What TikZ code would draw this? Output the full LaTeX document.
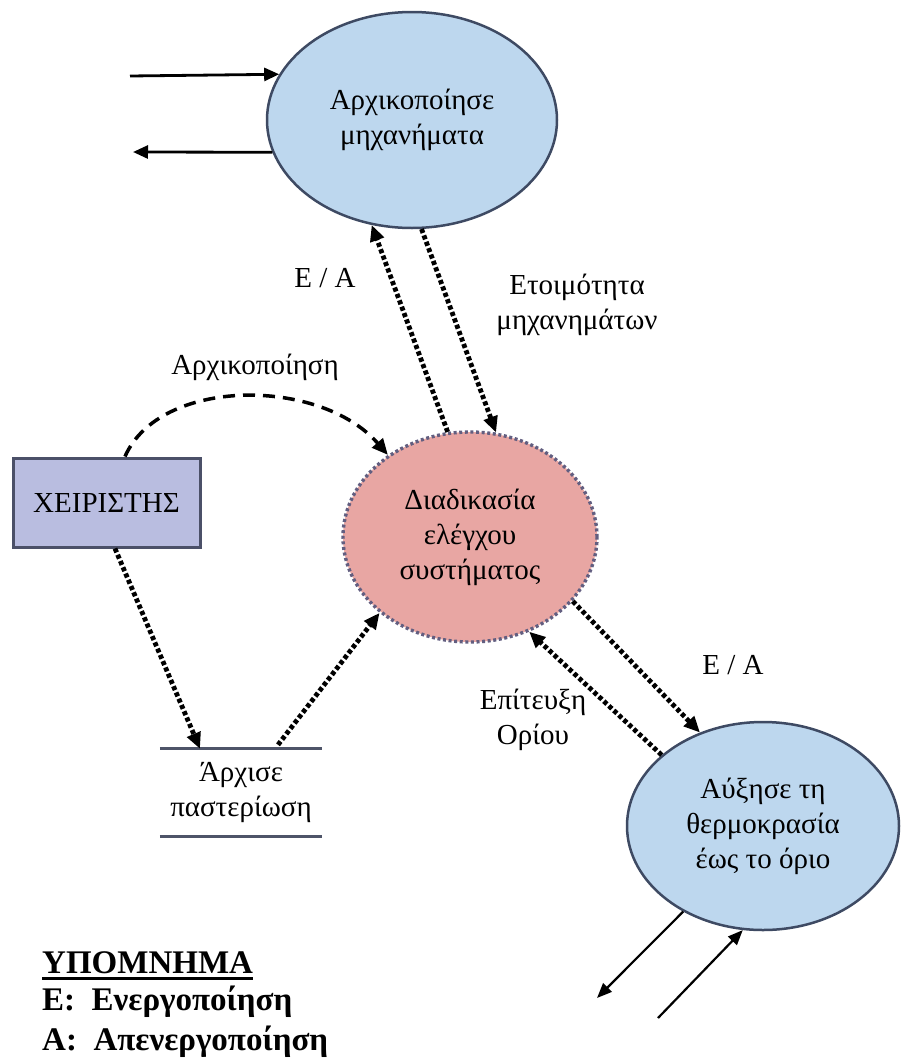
\documentclass[tikz,border=0pt]{standalone}
\usepackage{fontspec}
\setmainfont{Liberation Serif}
\usetikzlibrary{shapes.geometric,arrows.meta}
\definecolor{procblue}{HTML}{BDD7EE}
\definecolor{procedge}{HTML}{3E4A63}
\definecolor{ctrlpink}{HTML}{E8A6A3}
\definecolor{ctrledge}{HTML}{625E80}
\definecolor{opfill}{HTML}{B9BDE0}
\definecolor{opedge}{HTML}{4B5068}
\definecolor{storeedge}{HTML}{4E5468}

\begin{document}
\begin{tikzpicture}[x=1pt,y=-1pt,
  every node/.style={font=\fontsize{29}{35}\selectfont, align=center, inner sep=0pt},
  proc/.style={ellipse, draw=procedge, line width=2.5pt, fill=procblue},
  ctrlnode/.style={ellipse, draw=ctrledge, fill=ctrlpink, line width=3.4pt,
    dash pattern=on 3pt off 2.6pt},
  opbox/.style={rectangle, draw=opedge, fill=opfill, line width=3pt,
    minimum width=187pt, minimum height=89pt},
  storeline/.style={draw=storeedge, line width=3pt},
  flowdot/.style={line width=4.8pt, dash pattern=on 4.2pt off 2.6pt,
    -{Triangle[length=16pt,width=14pt]}},
  flowdash/.style={line width=3.5pt, dash pattern=on 12pt off 8pt,
    -{Triangle[length=16pt,width=14pt]}},
  ioarrow/.style={line width=2.8pt, -{Triangle[length=15pt,width=13pt]}},
  thinarrow/.style={line width=2.2pt, -{Triangle[length=15pt,width=12pt]}},
  legend/.style={font=\fontsize{33}{40}\selectfont\bfseries, align=left}
]
\fill[white] (0,0) rectangle (901,1060);
\useasboundingbox (0,0) rectangle (901,1060);

% processes, controller, operator and store
\node[proc, minimum width=290pt, minimum height=216pt] (init) at (412,120)
  {Αρχικοποίησε\\μηχανήματα};
\node[ctrlnode, minimum width=254pt, minimum height=210pt] (ctrl) at (470,537)
  {Διαδικασία\\ελέγχου\\συστήματος};
\node[proc, minimum width=272pt, minimum height=208pt] (heat) at (763,826)
  {Αύξησε τη\\θερμοκρασία\\έως το όριο};
\node[opbox] (op) at (106.5,502.5) {ΧΕΙΡΙΣΤΗΣ};
\node[minimum width=162pt, minimum height=87pt] (store) at (241,792.5)
  {Άρχισε\\παστερίωση};
\draw[storeline] (store.north west) -- (store.north east);
\draw[storeline] (store.south west) -- (store.south east);

% free ends of the external flows
\coordinate (inA) at (130,76);
\coordinate (outA) at (133,152);
\coordinate (outB) at (597,998);
\coordinate (inB) at (658,1018);

% external flows
\draw[ioarrow] (inA) -- (init.161.6);
\draw[ioarrow] (init.193) -- (outA);
\draw[thinarrow] (heat.227) -- (outB);
\draw[thinarrow] (inB) -- (heat.259.4);

% control flows
\draw[flowdot] (ctrl.102.4) -- (init.249);
\draw[flowdot] (init.275.8) -- (ctrl.76);
\draw[flowdash] ([xshift=18.5pt]op.north) .. controls (160,377) and (320,377) .. (ctrl.135.7);
\draw[flowdot] ([xshift=8.5pt]op.south) -- ([xshift=-41pt]store.north);
\draw[flowdot] ([xshift=37pt,yshift=4pt]store.north) -- (ctrl.220.8);
\draw[flowdot] (ctrl.328.3) -- (heat.124.7);
\draw[flowdot] (heat.145.4) -- (ctrl.302);

% flow labels
\node (ea1) at (325,278) {Ε / Α};
\node (ready) at (577,305) {Ετοιμότητα\\μηχανημάτων};
\node (initlbl) at (255,367) {Αρχικοποίηση};
\node (ea2) at (733,665) {Ε / Α};
\node (limit) at (533,720) {Επίτευξη\\Ορίου};

% legend
\node[legend, anchor=base west] (leg) at (42,973) {ΥΠΟΜΝΗΜΑ};
\draw[line width=3pt] ([yshift=-5pt]leg.base west) -- ([yshift=-5pt]leg.base east);
\node[legend, anchor=base west] (legE) at (42,1010) {Ε:\ \ Ενεργοποίηση};
\node[legend, anchor=base west] (legA) at (42,1050) {Α:\ \ Απενεργοποίηση};
\end{tikzpicture}
\end{document}
